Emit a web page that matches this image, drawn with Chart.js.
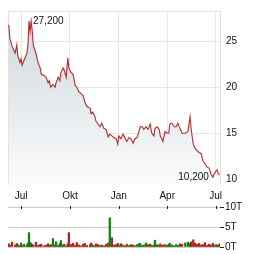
<!DOCTYPE html>
<html>
<head>
<meta charset="utf-8">
<script src="https://cdn.jsdelivr.net/npm/chart.js@4.4.1/dist/chart.umd.min.js"></script>
<style>
  body { margin: 0; background: #fff; }
  #wrap { position: relative; width: 264px; height: 255px; }
  canvas { position: absolute; left: 0; }
</style>
</head>
<body>
<div id="wrap">
  <canvas id="priceChart" width="264" height="205" style="top:0"></canvas>
  <canvas id="volumeChart" width="264" height="55" style="top:200px"></canvas>
</div>
<script>
// Tage relativ zum 1. Juli (Startjahr)
const days = [-23,-21,-17,-11,-8,-6,-2,0,2,6,11,13,15,17,19,21,23,28,32,36,
  38,43,47,51,53,56,60,64,66,70,73,75,79,81,85,88,90,94,98,102,
  105,109,113,117,120,124,130,132,135,139,141,145,149,152,156,160,164,167,171,175,
  179,182,184,188,192,196,199,203,207,211,214,218,222,224,228,231,235,239,243,246,
  250,252,256,260,262,265,267,271,275,278,280,284,288,292,295,299,303,309,314,318,
  320,324,327,331,335,339,342,346,350,354,357,361,363,367,369,371,374];

const prices = [26.8,25.3,24.5,23.7,24.6,23.4,22.7,23.1,22.4,23.0,
  23.7,24.6,27.2,26.1,27.2,26.2,24.6,23.7,22.7,22.1,
  21.4,21.3,21.1,20.5,20.7,20.0,20.3,20.0,20.5,21.1,
  20.7,21.6,22.1,21.9,21.1,23.2,22.1,21.6,21.4,20.2,
  20.0,19.5,19.3,19.1,18.4,17.9,17.7,17.1,17.3,16.8,
  16.3,16.0,15.7,16.1,15.5,15.4,14.6,14.9,14.7,14.5,
  14.4,13.8,14.7,14.4,14.9,14.4,14.1,14.5,14.4,13.9,
  14.4,14.5,15.2,15.7,15.7,15.4,15.7,15.4,16.0,15.0,
  14.7,15.5,15.7,15.4,14.7,14.4,14.1,15.2,15.0,15.0,
  16.0,16.1,15.7,15.7,16.1,15.5,15.0,15.0,15.2,16.8,
  15.5,13.8,13.4,13.1,12.9,12.8,12.0,11.7,11.3,11.2,
  10.6,10.2,10.5,10.9,11.0,10.6,10.5];

// Umsatz in Tausend (T)
const volumes = [0.8,0.4,1.2,0.5,0.9,0.6,0.3,1.0,0.4,0.7,
  0.5,1.0,3.6,1.1,0.9,0.6,0.5,1.2,0.4,0.6,
  0.7,0.3,0.5,0.8,0.4,0.6,2.1,0.5,1.3,0.4,
  0.9,1.6,0.5,0.7,0.3,0.8,3.6,0.6,0.9,0.4,
  1.1,0.5,0.3,0.7,0.9,0.4,0.6,1.0,0.5,0.3,
  0.8,0.6,0.4,0.5,0.3,0.7,1.0,7.3,2.3,0.5,
  0.6,0.9,0.4,0.8,0.5,0.3,0.7,0.4,0.6,0.5,
  0.3,0.6,0.8,0.9,0.4,0.5,1.0,0.6,0.7,0.4,
  0.5,1.7,0.6,0.4,0.8,0.3,0.5,0.6,0.4,0.7,
  0.9,0.5,0.3,0.6,0.4,0.8,0.7,1.0,1.2,0.9,
  1.3,1.8,1.0,0.7,0.9,0.5,0.6,1.1,0.4,0.7,
  0.5,0.9,0.4,0.6,0.3,0.5,0.8];

const monthDays = [0, 92, 184, 275, 366];
const monthLabels = ['Jul', 'Okt', 'Jan', 'Apr', 'Jul'];
const priceTicks = [10, 15, 20, 25];
const volumeTicks = [0, 5, 10];

const font = { family: "'Liberation Sans', Arial, sans-serif", size: 10 };
const fmt = v => v.toFixed(3).replace('.', ',');

// Rahmen um den Plotbereich
const frame = {
    id: 'frame',
    beforeDatasetsDraw(chart) {
        const { ctx, chartArea: a } = chart;
        ctx.save();
        ctx.strokeStyle = '#e2e2e2';
        ctx.lineWidth = 1;
        ctx.strokeRect(Math.round(a.left) + 0.5, Math.round(a.top) + 0.5,
            Math.round(a.right - a.left) - 1, Math.round(a.bottom - a.top) - 1);
        ctx.restore();
    }
};

// Hoch / Tief beschriften
const extremes = {
    id: 'extremes',
    afterDatasetsDraw(chart) {
        const { ctx, scales } = chart;
        const hi = prices.indexOf(Math.max(...prices));
        const lo = prices.indexOf(Math.min(...prices));
        ctx.save();
        ctx.font = "10px 'Liberation Sans', Arial, sans-serif";
        ctx.fillStyle = '#111';
        ctx.textBaseline = 'middle';
        ctx.textAlign = 'left';
        ctx.fillText(fmt(prices[hi]), scales.x.getPixelForValue(days[hi]) + 4, scales.y.getPixelForValue(prices[hi]));
        ctx.textAlign = 'right';
        ctx.fillText(fmt(prices[lo]), scales.x.getPixelForValue(days[lo]) - 4, scales.y.getPixelForValue(prices[lo]));
        ctx.restore();
    }
};

const ctx1 = document.getElementById('priceChart').getContext('2d');
new Chart(ctx1, {
    type: 'line',
    data: {
        datasets: [{
            data: days.map((d, i) => ({ x: d, y: prices[i] })),
            borderColor: '#b52d2d',
            borderWidth: 1.1,
            pointRadius: 0,
            tension: 0,
            fill: 'start',
            backgroundColor: (c) => {
                const a = c.chart.chartArea;
                if (!a) return '#e4e9ec';
                const g = c.chart.ctx.createLinearGradient(0, a.top, 0, a.bottom);
                g.addColorStop(0, '#cdd6dc');
                g.addColorStop(1, '#fbfcfc');
                return g;
            }
        }]
    },
    options: {
        responsive: false,
        animation: false,
        layout: { padding: { left: 8, top: 7 } },
        plugins: { legend: { display: false }, tooltip: { enabled: false } },
        scales: {
            x: {
                type: 'linear',
                min: -24.5,
                max: 376.25,
                afterBuildTicks: s => { s.ticks = monthDays.map(v => ({ value: v })); },
                afterFit: s => { s.height = 20; },
                ticks: { callback: (v, i) => monthLabels[i], font, color: '#111', padding: 5, maxRotation: 0, autoSkip: false },
                grid: { color: '#e8e8e8', drawTicks: false },
                border: { display: false }
            },
            y: {
                position: 'right',
                min: 9.36,
                max: 28.3,
                afterBuildTicks: s => { s.ticks = priceTicks.map(v => ({ value: v })); },
                afterFit: s => { s.width = 43; },
                ticks: { font, color: '#111', padding: 5 },
                grid: { color: '#e8e8e8', drawTicks: false },
                border: { display: false }
            }
        }
    },
    plugins: [frame, extremes]
});

// Monatsstriche im Umsatzchart
const monthMarks = {
    id: 'monthMarks',
    afterDraw(chart) {
        const { ctx, scales, chartArea: a } = chart;
        ctx.save();
        ctx.strokeStyle = '#222';
        ctx.lineWidth = 1;
        monthDays.forEach(d => {
            const x = Math.round(scales.x.getPixelForValue(d)) + 0.5;
            ctx.beginPath();
            ctx.moveTo(x, a.top - 1);
            ctx.lineTo(x, a.top + 2);
            ctx.stroke();
        });
        ctx.restore();
    }
};

const ctx2 = document.getElementById('volumeChart').getContext('2d');
new Chart(ctx2, {
    type: 'bar',
    data: {
        datasets: [{
            data: days.map((d, i) => ({ x: d, y: volumes[i] })),
            backgroundColor: prices.map((p, i) => (i > 0 && p >= prices[i - 1]) ? '#0a870a' : '#b22222'),
            barThickness: 1.6
        }]
    },
    options: {
        responsive: false,
        animation: false,
        layout: { padding: { left: 8, top: 7, bottom: 8 } },
        plugins: { legend: { display: false }, tooltip: { enabled: false } },
        scales: {
            x: {
                type: 'linear',
                display: false,
                min: -24.5,
                max: 374.4,
                offset: false
            },
            y: {
                position: 'right',
                min: 0,
                max: 10,
                afterBuildTicks: s => { s.ticks = volumeTicks.map(v => ({ value: v })); },
                afterFit: s => { s.width = 44; },
                ticks: { font, color: '#111', padding: 1, callback: v => v + 'T' },
                grid: { color: '#cccccc', tickColor: '#222', tickLength: 4 },
                border: { display: false }
            }
        }
    },
    plugins: [monthMarks]
});
</script>
</body>
</html>
